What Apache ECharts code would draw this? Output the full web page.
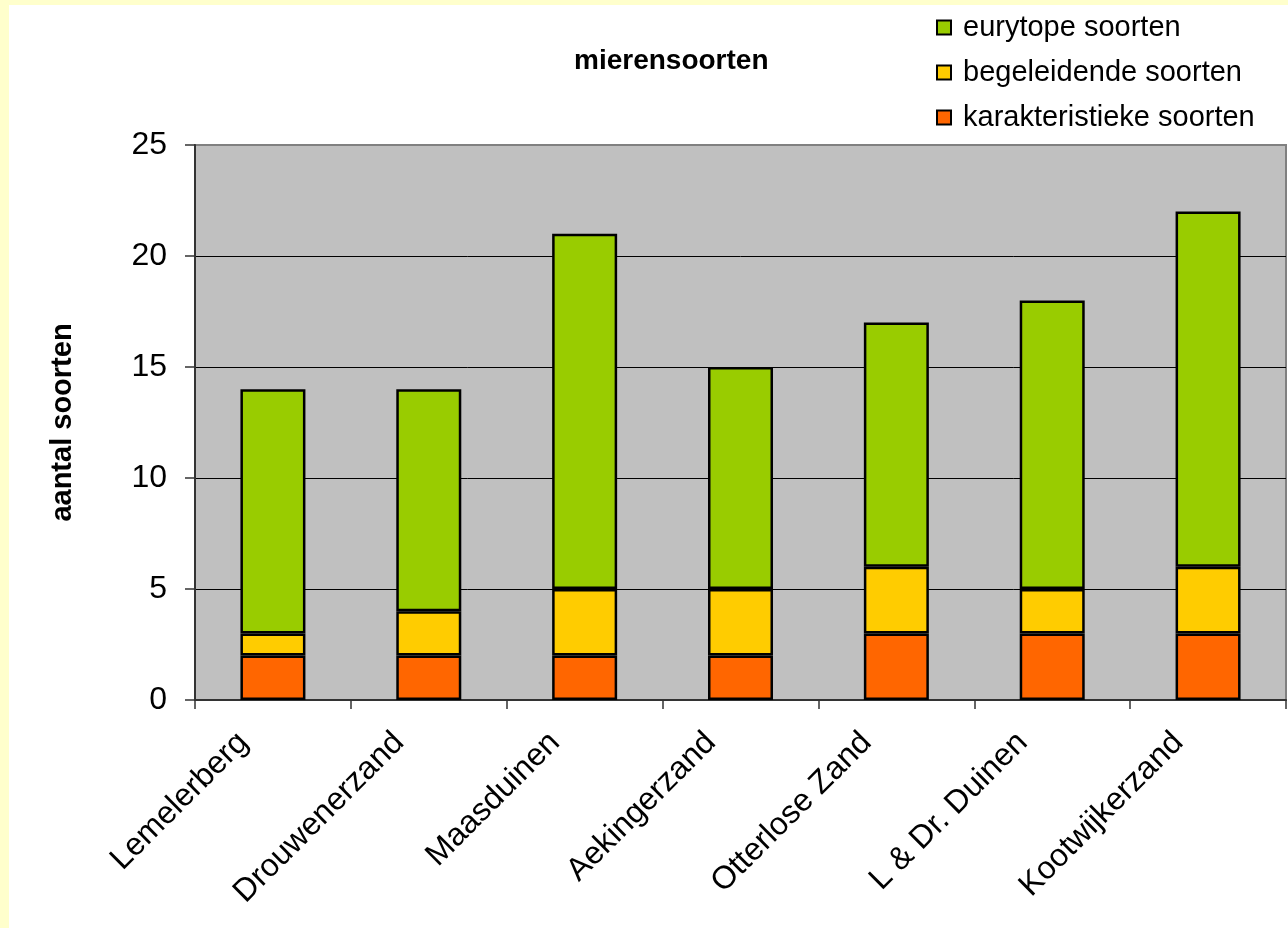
<!DOCTYPE html>
<html>
<head>
<meta charset="utf-8">
<script src="https://cdn.jsdelivr.net/npm/echarts@6/dist/echarts.min.js"></script>
<style>
  html, body { margin: 0; padding: 0; background: #FFFFCC; }
  #frame {
    position: absolute; left: 0; top: 0;
    width: 1279px; height: 923px;
    border-left: 9px solid #FFFFCC; border-top: 5px solid #FFFFCC;
    background: #FFFFFF;
  }
  #chart { width: 1279px; height: 923px; }
</style>
</head>
<body>
<div id="frame"><div id="chart"></div></div>
<script>
// Ant species per site, split by species group
const sites = ['Lemelerberg', 'Drouwenerzand', 'Maasduinen', 'Aekingerzand', 'Otterlose Zand', 'L & Dr. Duinen', 'Kootwijkerzand'];
const karakteristiek = [2, 2, 2, 2, 3, 3, 3];
const begeleidend = [1, 2, 3, 3, 3, 2, 3];
const eurytoop = [11, 10, 16, 10, 11, 13, 16];
const seriesNames = ['karakteristieke soorten', 'begeleidende soorten', 'eurytope soorten'];
const legendOrder = ['eurytope soorten', 'begeleidende soorten', 'karakteristieke soorten'];
const colors = ['#FF6600', '#FFCC00', '#99CC00'];

const FONT = '"Liberation Sans", Arial, sans-serif';
const chart = echarts.init(document.getElementById('chart'), null, { renderer: 'canvas' });

const values = [karakteristiek, begeleidend, eurytoop];
const series = values.map((data, i) => ({
  name: seriesNames[i],
  type: 'bar',
  stack: 'soorten',
  barWidth: 65,
  data: data,
  itemStyle: { color: colors[i], borderColor: '#000000', borderWidth: 2.5 }
}));

chart.setOption({
  animation: false,
  textStyle: { fontFamily: FONT },
  title: {
    text: 'mierensoorten',
    left: 560, top: 37,
    textStyle: { fontFamily: FONT, fontSize: 28, fontWeight: 'bold', color: '#000' }
  },
  legend: {
    data: legendOrder,
    orient: 'vertical',
    left: 922, top: 3,
    itemWidth: 14, itemHeight: 14, itemGap: 16,
    icon: 'rect',
    textStyle: { fontFamily: FONT, fontSize: 29, color: '#000', padding: [0, 0, 0, 7] }
  },
  grid: {
    left: 186, right: 2, top: 140, bottom: 228,
    show: true, backgroundColor: '#C0C0C0', borderColor: '#808080', borderWidth: 2
  },
  xAxis: {
    type: 'category',
    data: sites,
    axisLine: { lineStyle: { color: '#333', width: 2 } },
    axisTick: { show: true, length: 9, alignWithLabel: false, lineStyle: { color: '#333', width: 1.5 } },
    axisLabel: {
      rotate: 45, margin: 8, interval: 0,
      fontFamily: FONT, fontSize: 32, color: '#000',
      padding: [0, 42, 0, 0]
    }
  },
  yAxis: {
    type: 'value',
    min: 0, max: 25, interval: 5,
    name: 'aantal soorten',
    nameLocation: 'middle',
    nameRotate: 90,
    nameGap: 118,
    nameTextStyle: { fontFamily: FONT, fontSize: 29, fontWeight: 'bold', color: '#000' },
    axisLine: { show: true, lineStyle: { color: '#333', width: 2 } },
    axisTick: { show: true, length: 10, lineStyle: { color: '#333', width: 1.5 } },
    axisLabel: { margin: 28, fontFamily: FONT, fontSize: 32, color: '#000' },
    splitLine: { show: true, showMaxLine: false, lineStyle: { color: '#000', width: 1 } }
  },
  series: series
});
</script>
</body>
</html>
